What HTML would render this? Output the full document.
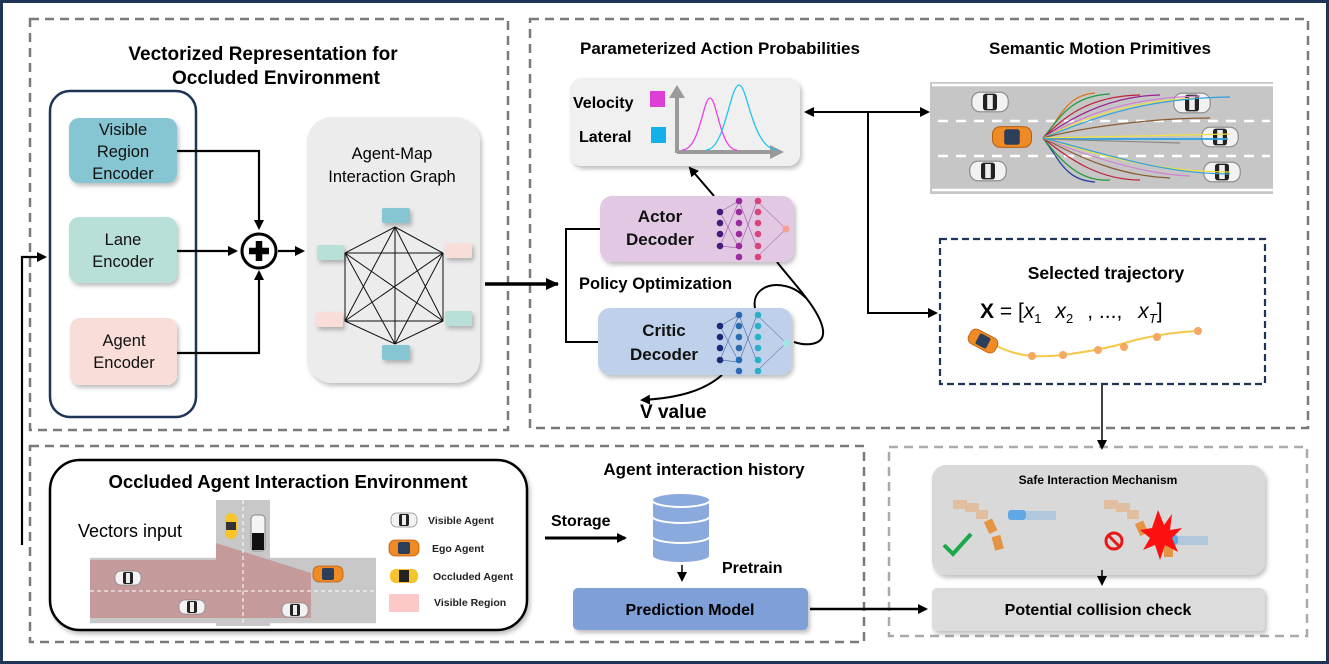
<!DOCTYPE html>
<html><head><meta charset="utf-8"><style>
html,body{margin:0;padding:0;background:#fff;}
svg{display:block;}
text{font-family:"Liberation Sans",sans-serif;}
</style></head><body>
<svg width="1329" height="664" viewBox="0 0 1329 664" xmlns="http://www.w3.org/2000/svg">
<defs>
<marker id="ah" markerWidth="10" markerHeight="10" refX="8" refY="5" orient="auto" markerUnits="userSpaceOnUse"><path d="M0,0 L10,5 L0,10 z" fill="#000"/></marker>
<marker id="ahs" markerWidth="14" markerHeight="14" refX="12" refY="7" orient="auto-start-reverse" markerUnits="userSpaceOnUse"><path d="M0,1 L13,7 L0,13 z" fill="#000"/></marker>
<filter id="sh" x="-10%" y="-10%" width="125%" height="130%"><feDropShadow dx="2" dy="3" stdDeviation="2" flood-color="#000" flood-opacity="0.25"/></filter>
<g id="car"><rect x="-13" y="-7" width="26" height="14" rx="6" fill="#f2f2f2" stroke="#888" stroke-width="0.8"/><rect x="-5" y="-6" width="10" height="12" rx="2" fill="#222"/><rect x="-2" y="-5" width="4" height="10" fill="#eee"/></g>
<g id="ego"><rect x="-15" y="-8" width="30" height="16" rx="6" fill="#f08a24" stroke="#b85f10" stroke-width="0.8"/><rect x="-6" y="-6" width="12" height="12" rx="2" fill="#2d3e5a"/></g>
</defs>
<rect x="1.5" y="1.5" width="1326" height="661" fill="#fff" stroke="#1e3558" stroke-width="3"/>

<g fill="none" stroke="#7a7a7a" stroke-width="2.5" stroke-dasharray="9,6">
<rect x="30" y="19" width="478" height="411"/>
<rect x="530" y="19" width="778" height="409"/>
<rect x="30" y="446" width="834" height="196"/>
<rect x="889" y="447" width="418" height="189" stroke="#aaa"/>
</g>

<text x="263" y="60" font-size="19" font-weight="bold" text-anchor="middle">Vectorized  Representation for</text>
<text x="276" y="84" font-size="19" font-weight="bold" text-anchor="middle">Occluded Environment</text>
<rect x="50" y="91" width="146" height="326" rx="20" fill="#fff" stroke="#1e3558" stroke-width="2.5"/>
<g filter="url(#sh)">
<rect x="69" y="118" width="108" height="65" rx="10" fill="#86c5d2"/>
<rect x="69" y="217" width="108" height="66" rx="10" fill="#b8e0d8"/>
<rect x="70" y="318" width="107" height="67" rx="10" fill="#f9ddd8"/>
</g>
<g font-size="16.5" text-anchor="middle" fill="#111">
<text x="123" y="135">Visible</text><text x="123" y="157">Region</text><text x="123" y="179">Encoder</text>
<text x="123" y="245">Lane</text><text x="123" y="267">Encoder</text>
<text x="124" y="346">Agent</text><text x="124" y="368">Encoder</text>
</g>
<g fill="none" stroke="#000" stroke-width="2.2">
<path d="M177,151 H259 V228" marker-end="url(#ah)"/>
<path d="M177,251 H236" marker-end="url(#ah)"/>
<path d="M177,353 H259 V272" marker-end="url(#ah)"/>
<path d="M278,251 H303" marker-end="url(#ah)"/>
<path d="M22,545 V257 H45" marker-end="url(#ah)"/>
</g>
<circle cx="259" cy="251" r="17" fill="#fff" stroke="#000" stroke-width="3"/>
<path d="M259,241 V261 M249,251 H269" stroke="#000" stroke-width="6.5"/>
<rect x="307" y="117" width="173" height="266" rx="25" fill="#ececec" filter="url(#sh)"/>
<text x="392" y="159" font-size="16.5" text-anchor="middle">Agent-Map</text>
<text x="392" y="182" font-size="16.5" text-anchor="middle">Interaction Graph</text>
<g stroke="#111" stroke-width="1" fill="none">
<polygon points="395,227 443,253 443,321 395,344 345,321 345,253"/>
<path d="M395,227 L395,344 M395,227 L345,321 M395,227 L443,321 M345,253 L443,253 M345,253 L443,321 M345,253 L395,344 M443,253 L345,321 M443,253 L395,344 M345,321 L443,321"/>
</g>
<g filter="url(#sh)">
<rect x="382" y="208" width="28" height="15" rx="2" fill="#86c5d2"/>
<rect x="382" y="345" width="28" height="15" rx="2" fill="#86c5d2"/>
<rect x="317" y="245" width="27" height="15" rx="2" fill="#b8e0d8"/>
<rect x="445" y="243" width="27" height="15" rx="2" fill="#f9ddd8"/>
<rect x="316" y="312" width="27" height="15" rx="2" fill="#f9ddd8"/>
<rect x="445" y="311" width="27" height="15" rx="2" fill="#b8e0d8"/>
</g>
<path d="M485,284 H558" stroke="#000" stroke-width="3.5" marker-end="url(#ahs)" fill="none"/>

<text x="720" y="54" font-size="17" font-weight="bold" text-anchor="middle">Parameterized Action Probabilities</text>
<text x="1100" y="54" font-size="17" font-weight="bold" text-anchor="middle">Semantic Motion Primitives</text>
<rect x="570" y="78" width="230" height="88" rx="12" fill="#f0f0f0" filter="url(#sh)"/>
<text x="573" y="108" font-size="16" font-weight="bold">Velocity</text>
<rect x="650" y="91" width="15" height="16" fill="#dd3fd6"/>
<text x="579" y="142" font-size="16" font-weight="bold">Lateral</text>
<rect x="651" y="127" width="15" height="16" fill="#13b0ea"/>
<g stroke="#9a9a9a" stroke-width="4" fill="none"><path d="M677,153 V95"/><path d="M677,152 H772"/></g>
<path d="M669,98 L677,85 L685,98 z" fill="#9a9a9a"/><path d="M770,145 L784,152 L770,159 z" fill="#9a9a9a"/>
<path d="M682,150 C700,150 703,98 710,98 C717,98 720,150 737,150" fill="none" stroke="#ee3ee8" stroke-width="1.3"/>
<path d="M706,150 C725,150 730,85 739,85 C748,85 752,150 778,150" fill="none" stroke="#23c3ee" stroke-width="1.3"/>

<rect x="930" y="82" width="343" height="112" fill="#c6c6c6"/>
<g stroke="#fff" stroke-width="2.5" fill="none"><path d="M932,85 H1273 M932,190 H1273"/></g>
<g stroke="#fff" stroke-width="2.5" stroke-dasharray="10,8" fill="none"><path d="M938,121 H1270 M938,156 H1270"/></g>
<g transform="translate(990,102) scale(1.4)"><use href="#car"/></g>
<g transform="translate(988,171) scale(1.4)"><use href="#car"/></g>
<g transform="translate(1192,103) scale(1.4)"><use href="#car"/></g>
<g transform="translate(1220,137) scale(1.4)"><use href="#car"/></g>
<g transform="translate(1222,172) scale(1.4)"><use href="#car"/></g>
<g transform="translate(1012,137) scale(1.3)"><use href="#ego"/></g>
<g fill="none" stroke-width="1.2">
<path d="M1043,138 C1060,120 1065,95 1095,93" stroke="#e07020"/>
<path d="M1043,138 C1060,118 1070,96 1110,94" stroke="#1f9a3a"/>
<path d="M1043,138 C1062,120 1085,96 1140,95" stroke="#c0203a"/>
<path d="M1043,138 C1070,118 1110,96 1160,95" stroke="#9a2090"/>
<path d="M1043,138 C1080,118 1120,98 1200,96" stroke="#d080d0"/>
<path d="M1043,138 C1080,120 1130,100 1200,98" stroke="#f0e040"/>
<path d="M1043,138 C1090,120 1140,98 1230,97" stroke="#30a0e0"/>
<path d="M1043,138 C1080,128 1150,118 1210,118" stroke="#8a5a30"/>
<path d="M1043,138 L1230,134" stroke="#f0e040"/>
<path d="M1043,139 L1228,139" stroke="#30a0e0" stroke-width="1.8"/>
<path d="M1043,139 L1180,143" stroke="#888"/>
<path d="M1043,138 C1060,160 1065,180 1095,182" stroke="#1f3aa0"/>
<path d="M1043,138 C1062,162 1080,182 1110,180" stroke="#1f9a3a"/>
<path d="M1043,138 C1070,160 1100,180 1140,180" stroke="#c0203a"/>
<path d="M1043,138 C1080,158 1120,176 1170,178" stroke="#8a5a30"/>
<path d="M1043,138 C1085,155 1140,174 1190,176" stroke="#d080d0"/>
<path d="M1043,138 C1090,152 1150,172 1230,172" stroke="#f0e040"/>
<path d="M1043,138 C1100,152 1160,174 1230,174" stroke="#30a0e0"/>
</g>
<g fill="none" stroke="#000" stroke-width="2">
<path d="M868,112 H928" marker-end="url(#ah)"/>
<path d="M868,112 H806" marker-end="url(#ah)"/>
<path d="M868,112 V313 H936" marker-end="url(#ah)"/>
<path d="M714,196 L690,168" marker-end="url(#ah)"/>
<path d="M600,229 H566 V342 H598"/>
<path d="M777,262 C795,285 820,310 823,330 C825,346 806,346 794,342"/>
<path d="M755,308 C752,292 766,282 785,286 C795,288 802,294 806,298"/>
<path d="M722,375 C705,390 680,398 642,400" marker-end="url(#ah)"/>
<path d="M1102,385 V448" marker-end="url(#ah)" stroke-width="1.5"/>
</g>
<g filter="url(#sh)">
<rect x="600" y="196" width="194" height="66" rx="12" fill="#e2c8e2"/>
<rect x="598" y="308" width="194" height="67" rx="12" fill="#bfd0ea"/>
</g>
<g font-size="17" font-weight="bold" text-anchor="middle" fill="#111">
<text x="660" y="222">Actor</text><text x="660" y="245">Decoder</text>
<text x="664" y="336">Critic</text><text x="664" y="360">Decoder</text>
</g>
<text x="579" y="289" font-size="16.5" font-weight="bold">Policy Optimization</text>
<text x="640" y="418" font-size="19" font-weight="bold">V value</text>
<g stroke-width="0.5">
<g stroke="#8a3a9a" fill="none"><path d="M720,212 L739,201 M720,212 L739,248 M720,246 L739,201 M720,246 L739,248 M739,201 L757,248 M739,248 L757,201 M757,201 L786,229 M757,257 L786,229"/></g>
<g fill="#4a1a7a"><circle cx="720" cy="212" r="3.3"/><circle cx="720" cy="223" r="3.3"/><circle cx="720" cy="234" r="3.3"/><circle cx="720" cy="246" r="3.3"/></g>
<g fill="#9a2aa0"><circle cx="739" cy="201" r="3.3"/><circle cx="739" cy="212" r="3.3"/><circle cx="739" cy="223" r="3.3"/><circle cx="739" cy="234" r="3.3"/><circle cx="739" cy="246" r="3.3"/><circle cx="739" cy="257" r="3.3"/></g>
<g fill="#d8457a"><circle cx="758" cy="201" r="3.3"/><circle cx="758" cy="212" r="3.3"/><circle cx="758" cy="223" r="3.3"/><circle cx="758" cy="234" r="3.3"/><circle cx="758" cy="246" r="3.3"/><circle cx="758" cy="257" r="3.3"/></g>
<circle cx="786" cy="229" r="3.5" fill="#f5a090"/>
<g stroke="#2a4a9a" fill="none"><path d="M720,326 L739,315 M720,326 L739,362 M720,360 L739,315 M720,360 L739,362 M739,315 L757,362 M739,362 L757,315 M757,315 L786,343 M757,371 L786,343"/></g>
<g fill="#1a2a7a"><circle cx="720" cy="326" r="3.3"/><circle cx="720" cy="337" r="3.3"/><circle cx="720" cy="348" r="3.3"/><circle cx="720" cy="360" r="3.3"/></g>
<g fill="#2a6ab0"><circle cx="739" cy="315" r="3.3"/><circle cx="739" cy="326" r="3.3"/><circle cx="739" cy="337" r="3.3"/><circle cx="739" cy="348" r="3.3"/><circle cx="739" cy="360" r="3.3"/><circle cx="739" cy="371" r="3.3"/></g>
<g fill="#2ab0c8"><circle cx="758" cy="315" r="3.3"/><circle cx="758" cy="326" r="3.3"/><circle cx="758" cy="337" r="3.3"/><circle cx="758" cy="348" r="3.3"/><circle cx="758" cy="360" r="3.3"/><circle cx="758" cy="371" r="3.3"/></g>
<circle cx="786" cy="343" r="3.5" fill="#a0e8e0"/>
</g>

<rect x="940" y="239" width="325" height="145" fill="#fff" stroke="#1e3558" stroke-width="2.2" stroke-dasharray="7,4"/>
<text x="1106" y="279" font-size="17.5" font-weight="bold" text-anchor="middle">Selected trajectory</text>
<text x="980" y="318" font-size="21" font-family="Liberation Serif,serif"><tspan font-weight="bold">X</tspan> = [<tspan font-style="italic">x</tspan><tspan font-size="13" dy="5">1</tspan><tspan dy="-5" dx="14" font-style="italic">x</tspan><tspan font-size="13" dy="5">2</tspan><tspan dy="-5" dx="14">, ...,</tspan><tspan dx="16" font-style="italic">x</tspan><tspan font-size="13" dy="5" font-style="italic">T</tspan><tspan dy="-5">]</tspan></text>
<path d="M995,345 C1015,356 1035,358 1063,355 C1085,352 1110,348 1128,342 C1150,336 1175,332 1198,331" fill="none" stroke="#f6c84a" stroke-width="2"/>
<g fill="#f4a860"><circle cx="1032" cy="356" r="4"/><circle cx="1063" cy="355" r="4"/><circle cx="1098" cy="350" r="4"/><circle cx="1124" cy="347" r="4"/><circle cx="1157" cy="337" r="4"/><circle cx="1198" cy="331" r="4"/></g>
<g transform="translate(983,341) rotate(28)"><use href="#ego"/></g>

<rect x="50" y="460" width="477" height="170" rx="30" fill="#fff" stroke="#000" stroke-width="2.5" filter="url(#sh)"/>
<text x="288" y="488" font-size="18.5" font-weight="bold" text-anchor="middle">Occluded Agent Interaction Environment</text>
<rect x="216" y="500" width="54" height="126" fill="#c8c8c8"/>
<rect x="90" y="557" width="286" height="67" fill="#c8c8c8"/>
<path d="M90,560 H216 V543 L311,573 V618 H90 z" fill="#c49a9a"/>
<g stroke="#fff" stroke-width="1.5" fill="none"><path d="M90,557 H216 M270,557 H376 M90,624 H216 M270,624 H376"/></g>
<g stroke="#fff" stroke-width="1" stroke-dasharray="4,3" fill="none"><path d="M243,500 V626 M90,591 H376"/></g>
<text x="78" y="537" font-size="18">Vectors input</text>
<g transform="translate(231,526) rotate(90)"><rect x="-13" y="-6" width="26" height="12" rx="6" fill="#f6c52a"/><rect x="-4" y="-5" width="8" height="10" fill="#333"/></g>
<g transform="translate(258,533) rotate(90)"><rect x="-18" y="-7" width="36" height="14" rx="4" fill="#f4f4f4" stroke="#888"/><rect x="0" y="-6" width="17" height="12" fill="#111"/></g>
<use href="#car" x="128" y="578"/><use href="#car" x="192" y="607"/><use href="#car" x="295" y="610"/>
<use href="#ego" x="328" y="574"/>
<use href="#car" x="404" y="520"/>
<g transform="translate(404,548)"><use href="#ego"/></g>
<g transform="translate(404,576)"><rect x="-14" y="-7" width="28" height="14" rx="6" fill="#f6c52a"/><rect x="-5" y="-6" width="10" height="12" fill="#222"/></g>
<rect x="389" y="594" width="30" height="18" fill="#fcc8c8"/>
<g font-family="Liberation Serif,serif" font-size="10.5" font-weight="bold" fill="#222">
<text x="428" y="524">Visible Agent</text><text x="432" y="552">Ego Agent</text><text x="433" y="580">Occluded Agent</text><text x="434" y="606">Visible Region</text>
</g>
<text x="704" y="475" font-family="Liberation Serif,serif" font-size="17" font-weight="bold" text-anchor="middle">Agent interaction history</text>
<text x="551" y="526" font-size="16" font-weight="bold">Storage</text>
<path d="M545,538 H625" stroke="#000" stroke-width="3" marker-end="url(#ah)" fill="none"/>
<g fill="#8aa9dc" stroke="#fff" stroke-width="2">
<path d="M652,538 V556 A29,7 0 0 0 710,556 V538 z"/>
<path d="M652,518 V536 A29,7 0 0 0 710,536 V518 z"/>
<path d="M652,500 V516 A29,7 0 0 0 710,516 V500 z"/>
<ellipse cx="681" cy="500" rx="29" ry="7"/>
</g>
<path d="M682,565 V580" stroke="#000" stroke-width="1.5" marker-end="url(#ah)"/>
<text x="722" y="573" font-size="16" font-weight="bold">Pretrain</text>
<rect x="573" y="588" width="235" height="42" rx="5" fill="#7e9fd8" filter="url(#sh)"/>
<text x="690" y="615" font-size="16" font-weight="bold" text-anchor="middle">Prediction Model</text>
<path d="M810,609 H926" stroke="#000" stroke-width="2.5" marker-end="url(#ah)" fill="none"/>

<rect x="932" y="465" width="333" height="110" rx="14" fill="#d9d9d9" filter="url(#sh)"/>
<text x="1098" y="484" font-size="12" font-weight="bold" text-anchor="middle">Safe Interaction Mechanism</text>
<g opacity="0.85">
<g fill="#e9a36a" opacity="0.6"><rect x="953" y="500" width="14" height="9"/><rect x="965" y="503" width="14" height="9"/><rect x="976" y="510" width="12" height="9"/></g>
<g fill="#e8882a"><rect x="986" y="520" width="9" height="13" transform="rotate(-25 990 526)"/><rect x="993" y="536" width="9" height="14" transform="rotate(-15 997 542)"/></g>
<g fill="#4aa0e8"><rect x="1008" y="510" width="18" height="10" rx="3"/></g><g fill="#8ab8e0" opacity="0.6"><rect x="1026" y="511" width="30" height="9"/></g>
<g fill="#e9a36a" opacity="0.6"><rect x="1104" y="500" width="14" height="9"/><rect x="1116" y="503" width="14" height="9"/><rect x="1127" y="510" width="12" height="9"/></g>
<g fill="#e8882a"><rect x="1137" y="522" width="9" height="13" transform="rotate(-25 1141 528)"/><rect x="1164" y="545" width="9" height="12"/></g>
<g fill="#4aa0e8"><rect x="1160" y="535" width="18" height="10" rx="3"/></g><g fill="#8ab8e0" opacity="0.6"><rect x="1178" y="536" width="30" height="9"/></g>
</g>
<polygon points="1158,510 1164,525 1172,514 1170,530 1182,528 1172,538 1178,552 1165,545 1160,560 1155,545 1143,550 1150,538 1140,530 1152,528" fill="#ff1010"/>
<path d="M944,545 L953,554 L971,534" fill="none" stroke="#1aa84a" stroke-width="4"/>
<circle cx="1114" cy="541" r="8" fill="none" stroke="#e81818" stroke-width="3"/>
<path d="M1109,536 L1119,546" stroke="#e81818" stroke-width="3"/>
<path d="M1102,570 V584" stroke="#000" stroke-width="1.5" marker-end="url(#ah)"/>
<rect x="932" y="588" width="333" height="43" rx="5" fill="#dcdcdc" filter="url(#sh)"/>
<text x="1098" y="615" font-size="16" font-weight="bold" text-anchor="middle">Potential collision check</text>
</svg>
</body></html>
